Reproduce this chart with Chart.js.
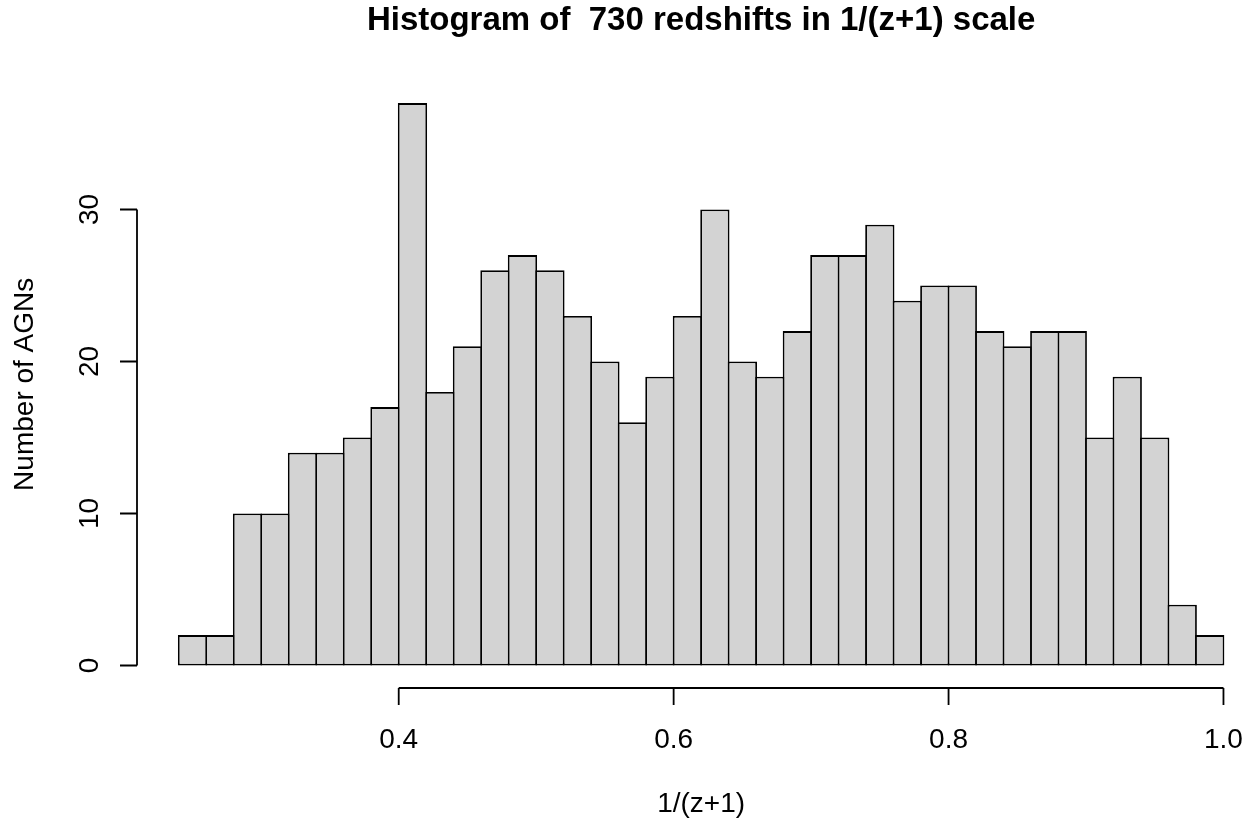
<!DOCTYPE html>
<html>
<head>
<meta charset="utf-8">
<title>Histogram of 730 redshifts</title>
<script src="https://cdn.jsdelivr.net/npm/chart.js@4.4.1/dist/chart.umd.min.js"></script>
<style>
  html, body { margin: 0; padding: 0; background: #fff; }
  #wrap { width: 1250px; height: 824px; }
</style>
</head>
<body>
<div id="wrap"><canvas id="hist"></canvas></div>
<script>
// DATA
// bin edges in 1/(z+1), width 0.02
const breaks = [0.24, 0.26, 0.28, 0.30, 0.32, 0.34, 0.36, 0.38, 0.40, 0.42,
                0.44, 0.46, 0.48, 0.50, 0.52, 0.54, 0.56, 0.58, 0.60, 0.62,
                0.64, 0.66, 0.68, 0.70, 0.72, 0.74, 0.76, 0.78, 0.80, 0.82,
                0.84, 0.86, 0.88, 0.90, 0.92, 0.94, 0.96, 0.98, 1.00];
// AGN count per bin
const counts = [2, 2, 10, 10, 14, 14, 15, 17, 37, 18,
                21, 26, 27, 26, 23, 20, 16, 19, 23, 30,
                20, 19, 22, 27, 27, 29, 24, 25, 25, 22,
                21, 22, 22, 15, 19, 15, 4, 2];
const xTicks = [0.4, 0.6, 0.8, 1.0];
const yTicks = [0, 10, 20, 30];

const FONT = "'Liberation Sans', Arial, sans-serif";

// one point per bin, at its midpoint
const bars = counts.map((c, i) => ({ x: (breaks[i] + breaks[i + 1]) / 2, y: c }));

// 4% extra room round the data, like base R plots
const xLo = breaks[0], xHi = breaks[breaks.length - 1];
const xPad = (xHi - xLo) * 0.04;
const yTop = Math.max(...counts);
const yPad = yTop * 0.04;

// R-style detached axes, tick labels and titles
const rAxes = {
    id: 'rAxes',
    afterDraw(chart) {
        const ctx = chart.ctx;
        const xs = chart.scales.x, ys = chart.scales.y;
        const area = chart.chartArea;
        const axY = area.bottom, axX = area.left;
        // centre of the whole plot region, which runs past the canvas edge
        const midX = xs.getPixelForValue((xLo - xPad + xHi + xPad) / 2);

        ctx.save();
        ctx.strokeStyle = '#000';
        ctx.lineWidth = 1.8;
        ctx.beginPath();
        // x axis
        ctx.moveTo(xs.getPixelForValue(xTicks[0]), axY);
        ctx.lineTo(xs.getPixelForValue(xTicks[xTicks.length - 1]), axY);
        xTicks.forEach(t => {
            const px = xs.getPixelForValue(t);
            ctx.moveTo(px, axY);
            ctx.lineTo(px, axY + 17);
        });
        // y axis
        ctx.moveTo(axX, ys.getPixelForValue(yTicks[0]));
        ctx.lineTo(axX, ys.getPixelForValue(yTicks[yTicks.length - 1]));
        yTicks.forEach(t => {
            const py = ys.getPixelForValue(t);
            ctx.moveTo(axX, py);
            ctx.lineTo(axX - 17, py);
        });
        ctx.stroke();

        ctx.fillStyle = '#000';
        ctx.font = '28px ' + FONT;
        ctx.textAlign = 'center';
        ctx.textBaseline = 'alphabetic';
        xTicks.forEach(t => ctx.fillText(t.toFixed(1), xs.getPixelForValue(t), axY + 60));
        yTicks.forEach(t => {
            ctx.save();
            ctx.translate(axX - 39, ys.getPixelForValue(t));
            ctx.rotate(-Math.PI / 2);
            ctx.fillText(String(t), 0, 0);
            ctx.restore();
        });

        // axis titles
        ctx.fillText('1/(z+1)', midX, axY + 124);
        ctx.save();
        ctx.translate(33, (area.top + area.bottom) / 2);
        ctx.rotate(-Math.PI / 2);
        ctx.fillText('Number of AGNs', 0, 0);
        ctx.restore();

        // main title
        ctx.font = 'bold 33px ' + FONT;
        ctx.fillText('Histogram of  730 redshifts in 1/(z+1) scale', midX, 30);
        ctx.restore();
    }
};

const histChart = new Chart(document.getElementById('hist'), {
    type: 'bar',
    data: {
        datasets: [{
            data: bars,
            backgroundColor: '#d3d3d3',
            borderColor: '#000',
            borderWidth: 1.8,
            borderSkipped: false,
            // a little over 1 so neighbouring outlines sit on the shared edge
            barPercentage: 1.065,
            categoryPercentage: 1
        }]
    },
    options: {
        responsive: true,
        maintainAspectRatio: false,
        animation: false,
        events: [],
        layout: { padding: { left: 137, right: 0, top: 80.6, bottom: 136 } },
        scales: {
            // plot region runs on past the right edge of the canvas
            x: { type: 'linear', display: false, offset: false, min: xLo - xPad, max: 1.0193 },
            y: { type: 'linear', display: false, min: -yPad, max: yTop + yPad }
        },
        plugins: {
            legend: { display: false },
            tooltip: { enabled: false }
        }
    },
    plugins: [rAxes]
});
</script>
</body>
</html>
